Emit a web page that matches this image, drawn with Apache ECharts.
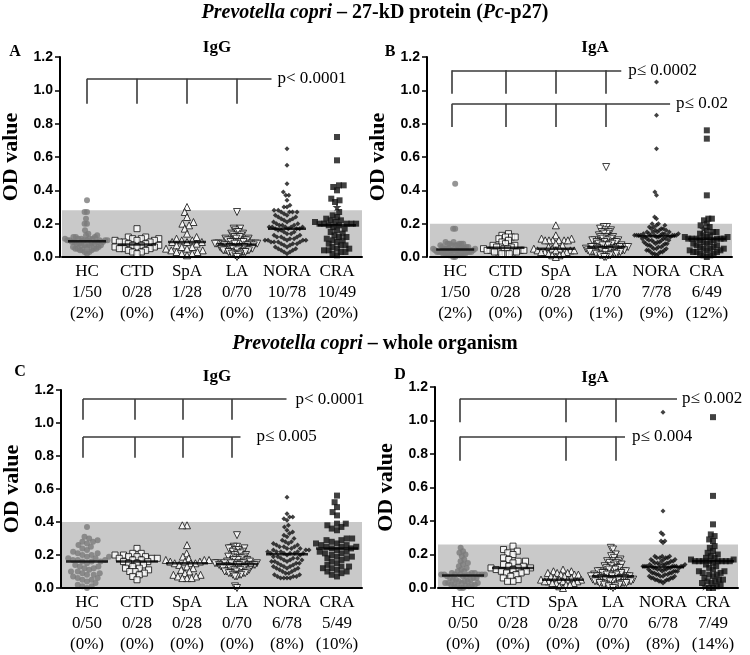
<!DOCTYPE html>
<html><head><meta charset="utf-8">
<script src="https://cdn.jsdelivr.net/npm/echarts@6/dist/echarts.min.js"></script>
<style>html,body{margin:0;padding:0;background:#fff}#c{width:750px;height:655px}</style>
</head><body><div id="c"></div>
<script>
// ---------------- DATA ----------------
const groups = ['HC','CTD','SpA','LA','NORA','CRA'];
const cutoffs = [0.28, 0.20, 0.40, 0.26];

// Panel A: Pc-p27 IgG
const hcA = [0.34,0.27,0.27,0.23,0.20,0.20,0.16,0.14,0.13,0.13,0.12,0.12,0.12,0.11,0.11,0.11,0.11,0.11,0.10,0.10,0.10,0.10,0.10,0.10,0.10,0.09,0.09,0.09,0.09,0.08,0.08,0.08,0.08,0.07,0.07,0.07,0.07,0.06,0.06,0.06,0.05,0.05,0.05,0.05,0.04,0.04,0.04,0.03,0.03,0.02];
const ctdA = [0.17,0.12,0.12,0.11,0.11,0.11,0.10,0.10,0.10,0.09,0.09,0.09,0.08,0.08,0.07,0.07,0.07,0.06,0.06,0.06,0.05,0.05,0.05,0.04,0.04,0.03,0.03,0.02];
const spaA = [0.30,0.27,0.24,0.21,0.20,0.19,0.17,0.14,0.12,0.11,0.10,0.10,0.09,0.09,0.09,0.08,0.07,0.06,0.06,0.05,0.05,0.04,0.04,0.03,0.03,0.02,0.02,0.01];
const laA = [0.27,0.17,0.17,0.16,0.15,0.15,0.14,0.14,0.13,0.13,0.12,0.12,0.12,0.11,0.11,0.11,0.10,0.10,0.10,0.10,0.09,0.09,0.09,0.09,0.09,0.08,0.08,0.08,0.08,0.08,0.08,0.08,0.08,0.08,0.08,0.07,0.07,0.07,0.07,0.07,0.07,0.06,0.06,0.06,0.06,0.06,0.06,0.05,0.05,0.05,0.05,0.05,0.05,0.04,0.04,0.04,0.04,0.04,0.04,0.03,0.03,0.03,0.03,0.03,0.02,0.02,0.02,0.01,0.01,0.00];
const noraA = [0.65,0.55,0.44,0.39,0.37,0.37,0.34,0.31,0.30,0.30,0.28,0.28,0.27,0.27,0.27,0.27,0.26,0.25,0.25,0.24,0.24,0.23,0.23,0.22,0.22,0.21,0.21,0.20,0.20,0.19,0.19,0.19,0.18,0.18,0.18,0.18,0.18,0.17,0.17,0.17,0.17,0.16,0.16,0.15,0.15,0.14,0.14,0.13,0.13,0.12,0.12,0.12,0.11,0.11,0.11,0.10,0.10,0.10,0.10,0.10,0.09,0.09,0.09,0.09,0.08,0.08,0.08,0.07,0.07,0.06,0.06,0.05,0.05,0.04,0.04,0.03,0.03,0.02];
const craA = [0.72,0.58,0.43,0.43,0.42,0.40,0.35,0.34,0.33,0.27,0.25,0.24,0.23,0.22,0.22,0.21,0.21,0.20,0.20,0.20,0.20,0.20,0.19,0.19,0.18,0.17,0.16,0.15,0.14,0.13,0.12,0.12,0.11,0.10,0.10,0.09,0.08,0.07,0.07,0.06,0.05,0.05,0.04,0.04,0.03,0.03,0.02,0.01];
const starA = [0.30];
const fracA = ['1/50','0/28','1/28','0/70','10/78','10/49'];
const pctA = ['(2%)','(0%)','(4%)','(0%)','(13%)','(20%)'];

// Panel B: Pc-p27 IgA
const hcB = [0.44,0.17,0.17,0.09,0.09,0.08,0.08,0.08,0.08,0.08,0.07,0.07,0.07,0.07,0.06,0.06,0.06,0.05,0.05,0.05,0.05,0.05,0.05,0.05,0.05,0.04,0.04,0.04,0.04,0.04,0.04,0.03,0.03,0.03,0.03,0.03,0.03,0.03,0.02,0.02,0.02,0.02,0.02,0.02,0.01,0.01,0.01,0.01,0.00,0.00];
const ctdB = [0.14,0.13,0.12,0.12,0.12,0.11,0.10,0.09,0.08,0.07,0.07,0.06,0.06,0.06,0.05,0.05,0.05,0.04,0.04,0.04,0.04,0.03,0.03,0.03,0.03,0.02,0.02,0.02];
const spaB = [0.19,0.13,0.11,0.11,0.10,0.10,0.10,0.10,0.10,0.10,0.08,0.07,0.06,0.05,0.05,0.05,0.04,0.04,0.04,0.04,0.03,0.03,0.03,0.02,0.02,0.01,0.01,0.00];
const laB = [0.54,0.18,0.18,0.17,0.16,0.16,0.15,0.15,0.14,0.14,0.13,0.12,0.12,0.12,0.11,0.11,0.11,0.10,0.10,0.10,0.10,0.09,0.09,0.09,0.09,0.08,0.08,0.08,0.08,0.07,0.07,0.07,0.07,0.06,0.06,0.06,0.06,0.06,0.06,0.06,0.05,0.05,0.05,0.05,0.05,0.05,0.04,0.04,0.04,0.04,0.04,0.04,0.04,0.03,0.03,0.03,0.03,0.03,0.03,0.02,0.02,0.02,0.02,0.02,0.01,0.01,0.01,0.01,0.00,0.00];
const noraB = [1.05,0.85,0.65,0.39,0.37,0.24,0.23,0.20,0.20,0.19,0.19,0.18,0.18,0.17,0.17,0.17,0.16,0.16,0.16,0.15,0.15,0.15,0.15,0.14,0.14,0.14,0.14,0.14,0.13,0.13,0.13,0.13,0.13,0.13,0.13,0.13,0.13,0.13,0.13,0.12,0.12,0.12,0.12,0.11,0.11,0.11,0.11,0.10,0.10,0.10,0.10,0.09,0.09,0.09,0.09,0.08,0.08,0.08,0.08,0.07,0.07,0.07,0.06,0.06,0.06,0.05,0.05,0.05,0.04,0.04,0.04,0.03,0.03,0.03,0.02,0.02,0.02,0.01];
const craB = [0.76,0.71,0.37,0.23,0.23,0.22,0.20,0.19,0.18,0.16,0.15,0.15,0.14,0.13,0.13,0.12,0.12,0.12,0.11,0.11,0.11,0.11,0.11,0.11,0.10,0.10,0.09,0.09,0.08,0.08,0.07,0.07,0.06,0.06,0.05,0.05,0.05,0.04,0.04,0.04,0.03,0.03,0.03,0.02,0.02,0.01,0.01,0.00];
const starB = [0.17];
const fracB = ['1/50','0/28','0/28','1/70','7/78','6/49'];
const pctB = ['(2%)','(0%)','(0%)','(1%)','(9%)','(12%)'];

// Panel C: whole organism IgG
const hcC = [0.37,0.31,0.30,0.29,0.28,0.28,0.27,0.26,0.25,0.24,0.23,0.22,0.21,0.21,0.20,0.20,0.19,0.19,0.18,0.18,0.17,0.17,0.17,0.16,0.16,0.16,0.15,0.14,0.13,0.13,0.12,0.12,0.11,0.10,0.10,0.09,0.09,0.08,0.08,0.07,0.06,0.06,0.05,0.05,0.04,0.03,0.02,0.01,0.01,0.00];
const ctdC = [0.24,0.21,0.21,0.20,0.20,0.19,0.19,0.19,0.18,0.18,0.18,0.17,0.17,0.16,0.16,0.15,0.15,0.14,0.13,0.12,0.12,0.11,0.10,0.10,0.09,0.08,0.07,0.05];
const spaC = [0.38,0.38,0.26,0.21,0.19,0.18,0.17,0.17,0.17,0.16,0.16,0.16,0.15,0.15,0.15,0.14,0.13,0.12,0.11,0.10,0.09,0.08,0.08,0.07,0.07,0.06,0.06,0.06];
const laC = [0.32,0.25,0.25,0.24,0.24,0.24,0.23,0.23,0.22,0.22,0.21,0.21,0.20,0.20,0.19,0.19,0.19,0.18,0.18,0.18,0.17,0.17,0.17,0.16,0.16,0.16,0.16,0.15,0.15,0.15,0.15,0.15,0.15,0.15,0.15,0.14,0.14,0.14,0.14,0.14,0.14,0.13,0.13,0.13,0.13,0.13,0.12,0.12,0.12,0.12,0.12,0.11,0.11,0.11,0.11,0.10,0.10,0.10,0.10,0.09,0.09,0.09,0.09,0.08,0.08,0.08,0.07,0.07,0.01,0.00];
const noraC = [0.55,0.45,0.43,0.43,0.42,0.41,0.38,0.37,0.35,0.34,0.33,0.32,0.31,0.30,0.29,0.28,0.28,0.27,0.27,0.26,0.26,0.25,0.25,0.25,0.24,0.24,0.24,0.23,0.23,0.23,0.22,0.22,0.22,0.22,0.21,0.21,0.21,0.21,0.21,0.20,0.20,0.19,0.19,0.18,0.18,0.18,0.17,0.17,0.17,0.16,0.16,0.16,0.15,0.15,0.15,0.14,0.14,0.13,0.13,0.13,0.12,0.12,0.12,0.11,0.11,0.10,0.10,0.09,0.09,0.08,0.08,0.07,0.07,0.07,0.06,0.06,0.06,0.06];
const craC = [0.56,0.52,0.49,0.46,0.44,0.39,0.39,0.38,0.37,0.36,0.35,0.30,0.30,0.29,0.29,0.28,0.27,0.27,0.26,0.26,0.25,0.25,0.25,0.24,0.24,0.23,0.22,0.22,0.21,0.21,0.20,0.19,0.19,0.18,0.18,0.17,0.16,0.15,0.14,0.13,0.13,0.12,0.12,0.11,0.10,0.10,0.09,0.08,0.07];
const starC = [];
const fracC = ['0/50','0/28','0/28','0/70','6/78','5/49'];
const pctC = ['(0%)','(0%)','(0%)','(0%)','(8%)','(10%)'];

// Panel D: whole organism IgA
const hcD = [0.24,0.22,0.21,0.20,0.19,0.17,0.16,0.15,0.14,0.13,0.12,0.11,0.10,0.10,0.09,0.09,0.09,0.08,0.08,0.08,0.08,0.08,0.08,0.08,0.08,0.07,0.07,0.07,0.06,0.06,0.06,0.05,0.05,0.05,0.04,0.04,0.04,0.03,0.03,0.03,0.03,0.02,0.02,0.02,0.02,0.01,0.01,0.01,0.00,0.00];
const ctdD = [0.25,0.23,0.22,0.21,0.20,0.18,0.17,0.16,0.16,0.15,0.14,0.13,0.13,0.12,0.12,0.12,0.11,0.11,0.10,0.10,0.09,0.09,0.08,0.07,0.06,0.05,0.04,0.04];
const spaD = [0.11,0.10,0.10,0.09,0.09,0.09,0.08,0.08,0.08,0.07,0.07,0.06,0.06,0.05,0.05,0.05,0.05,0.04,0.04,0.04,0.04,0.03,0.03,0.03,0.02,0.02,0.01,0.00];
const laD = [0.24,0.23,0.20,0.19,0.18,0.17,0.16,0.16,0.16,0.15,0.15,0.14,0.14,0.13,0.13,0.12,0.12,0.12,0.11,0.11,0.11,0.10,0.10,0.10,0.10,0.09,0.09,0.09,0.09,0.08,0.08,0.08,0.08,0.08,0.07,0.07,0.07,0.07,0.07,0.07,0.06,0.06,0.06,0.06,0.06,0.05,0.05,0.05,0.05,0.05,0.05,0.04,0.04,0.04,0.04,0.04,0.04,0.03,0.03,0.03,0.03,0.03,0.02,0.02,0.02,0.02,0.01,0.01,0.01,0.00];
const noraD = [1.05,0.46,0.33,0.32,0.28,0.28,0.27,0.19,0.19,0.19,0.18,0.18,0.18,0.18,0.17,0.17,0.17,0.16,0.16,0.16,0.16,0.15,0.15,0.15,0.15,0.14,0.14,0.14,0.14,0.14,0.13,0.13,0.13,0.13,0.13,0.13,0.13,0.13,0.13,0.12,0.12,0.12,0.12,0.12,0.11,0.11,0.11,0.11,0.11,0.10,0.10,0.10,0.10,0.10,0.09,0.09,0.09,0.09,0.08,0.08,0.08,0.08,0.07,0.07,0.07,0.07,0.06,0.06,0.06,0.06,0.05,0.05,0.05,0.05,0.04,0.04,0.04,0.03];
const craD = [1.02,0.55,0.38,0.32,0.31,0.29,0.28,0.25,0.24,0.22,0.21,0.20,0.19,0.18,0.18,0.17,0.17,0.16,0.16,0.16,0.16,0.16,0.16,0.16,0.16,0.15,0.14,0.13,0.12,0.11,0.10,0.10,0.09,0.09,0.08,0.08,0.07,0.06,0.05,0.05,0.04,0.04,0.03,0.03,0.02,0.01,0.00,0.00];
const starD = [0.01];
const fracD = ['0/50','0/28','0/28','0/70','6/78','7/49'];
const pctD = ['(0%)','(0%)','(0%)','(0%)','(8%)','(14%)'];

// ---------------- LAYOUT / STYLE ----------------
const SERIF = '"Liberation Serif","Times New Roman",serif';
const SANS = '"Liberation Sans",Arial,sans-serif';
const openStyle = {color:'#fff', borderColor:'#111', borderWidth:1};
const markers = [
  {symbol:'circle', size:6, rotate:0, itemStyle:{color:'#7b7b7b'}},
  {symbol:'rect', size:6, rotate:0, itemStyle:openStyle},
  {symbol:'triangle', size:7, rotate:0, itemStyle:openStyle},
  {symbol:'triangle', size:7, rotate:180, itemStyle:openStyle},
  {symbol:'diamond', size:5, rotate:0, itemStyle:{color:'#111'}},
  {symbol:'rect', size:6, rotate:0, itemStyle:{color:'#111'}}
];
const STAR = 'path://M50,0 L61,35 L98,35 L68,57 L79,91 L50,70 L21,91 L32,57 L2,35 L39,35 Z';

const panels = [
  {grid:{left:62, top:57, width:300, height:200}, yOff:2,
   vals:[hcA,ctdA,spaA,laA,noraA,craA], star:starA, fr:fracA, pc:pctA, medW:38,
   brackets:[{top:1.07, bottom:0.92, ticks:[0,1,2,3], end:3.69, text:'p< 0.0001', gap:6}],
   letter:['A',15,52], sub:['IgG',217,48]},
  {grid:{left:430, top:57, width:302, height:200}, yOff:3,
   vals:[hcB,ctdB,spaB,laB,noraB,craB], star:starB, fr:fracB, pc:pctB, medW:38,
   brackets:[{top:1.12, bottom:0.98, ticks:[-0.06,1,2,3], end:3.3, text:'p\u2264 0.0002', gap:7},
             {top:0.92, bottom:0.78, ticks:[-0.06,1,2,3], end:4.27, text:'p\u2264 0.02', gap:6}],
   letter:['B',390,52], sub:['IgA',595,48]},
  {grid:{left:62, top:390, width:300, height:198}, yOff:1,
   vals:[hcC,ctdC,spaC,laC,noraC,craC], star:starC, fr:fracC, pc:pctC, medW:42,
   brackets:[{top:1.145, bottom:1.02, ticks:[-0.08,0.96,1.92,2.9], end:3.99, text:'p< 0.0001', gap:9},
             {top:0.915, bottom:0.79, ticks:[-0.08,0.96,1.92,2.9], end:3.07, text:'p\u2264 0.005', gap:16}],
   letter:['C',20,372], sub:['IgG',217,377]},
  {grid:{left:438, top:387, width:300, height:201}, yOff:3,
   vals:[hcD,ctdD,spaD,laD,noraD,craD], star:starD, fr:fracD, pc:pctD, medW:42,
   brackets:[{top:1.13, bottom:0.99, ticks:[-0.06,2.06,3.06], end:4.28, text:'p\u2264 0.002', gap:5},
             {top:0.905, bottom:0.76, ticks:[-0.06,2.06,3.06], end:3.24, text:'p\u2264 0.004', gap:7}],
   letter:['D',400,375], sub:['IgA',595,378]}
];

function median(a){
  const s = a.slice().sort((x,y)=>x-y); const n = s.length;
  return n % 2 ? s[(n-1)/2] : (s[n/2-1] + s[n/2]) / 2;
}
// deterministic beeswarm: horizontal pixel offsets from the values' pixel heights
function swarm(vals, pxY, D, maxHalf){
  const order = vals.map((v,i)=>i).sort((a,b)=>vals[a]-vals[b]);
  const placed = []; const xs = new Array(vals.length).fill(0);
  order.forEach(i=>{
    const y = vals[i]*pxY;
    const near = placed.filter(p=>Math.abs(p.y-y) < D);
    const cands = [0];
    near.forEach(p=>{ const dx = Math.sqrt(D*D-(p.y-y)*(p.y-y)); cands.push(p.x+dx, p.x-dx); });
    cands.sort((a,b)=>Math.abs(a)-Math.abs(b) || a-b);
    let best = 0;
    for (const c of cands){
      if (near.every(p=>(p.x-c)*(p.x-c)+(p.y-y)*(p.y-y) >= D*D-0.01)){ best = c; break; }
    }
    placed.push({x:best,y:y}); xs[i] = best;
  });
  const m = Math.max(0, ...xs.map(Math.abs));
  const s = m > maxHalf ? maxHalf/m : 1;
  return xs.map(x=>x*s);
}

const grids=[], xAxes=[], yAxes=[], series=[], graphics=[];
panels.forEach((p,k)=>{
  grids.push(Object.assign({containLabel:false, outerBoundsMode:'none'}, p.grid));
  xAxes.push({type:'category', gridIndex:k, data:groups, boundaryGap:true, z:5,
    axisLine:{show:true, onZero:false, lineStyle:{color:'#000', width:2}}, axisTick:{show:false}, splitLine:{show:false},
    axisLabel:{interval:0, margin:4, fontFamily:SERIF, fontSize:17, lineHeight:21, color:'#000',
      formatter:(v,i)=>v+'\n'+p.fr[i]+'\n'+p.pc[i]}});
  xAxes.push({type:'value', gridIndex:k, min:-0.5, max:5.5, show:false});
  yAxes.push({type:'value', gridIndex:k, min:0, max:1.2, interval:0.2, offset:p.yOff, z:5,
    axisLine:{show:true, onZero:false, lineStyle:{color:'#000', width:2}},
    axisTick:{show:true, length:5, lineStyle:{color:'#000', width:1.5}},
    splitLine:{show:false},
    axisLabel:{formatter:v=>v.toFixed(1), fontFamily:SANS, fontWeight:'bold', fontSize:14, color:'#000', margin:7},
    name:'OD value', nameLocation:'middle', nameGap:38,
    nameTextStyle:{fontFamily:SERIF, fontWeight:'bold', fontSize:22, color:'#000'}});
  const xi = 2*k+1, yi = k;
  const pxX = p.grid.width/6, pxY = p.grid.height/1.2;

  // shading, brackets and p-value texts
  const mlData = [];
  p.brackets.forEach(b=>{
    mlData.push([{coord:[b.ticks[0], b.top]}, {coord:[b.end, b.top]}]);
    b.ticks.forEach(t=>mlData.push([{coord:[t, b.top]}, {coord:[t, b.bottom]}]));
  });
  series.push({type:'scatter', xAxisIndex:xi, yAxisIndex:yi, data:[[0,0]], symbolSize:0, z:1, silent:true,
    markArea:{silent:true, itemStyle:{color:'#c9c9c9'},
      data:[[{coord:[-0.5,0]},{coord:[5.5,cutoffs[k]]}]]},
    markLine:{silent:true, symbol:['none','none'], label:{show:false},
      lineStyle:{color:'#3a3a3a', width:1.6, type:'solid'}, data:mlData},
    markPoint:{silent:true, symbol:'circle', symbolSize:0,
      label:{show:true, position:'right', formatter:'{b}', fontFamily:SERIF, fontSize:17, color:'#000'},
      data:p.brackets.map(b=>({name:b.text, coord:[b.end, b.top], label:{distance:b.gap}}))}
  });

  // groups
  const medData = [];
  p.vals.forEach((vals,g)=>{
    const extra = (g===5) ? p.star : [];
    const all = vals.concat(extra);
    const offs = swarm(all, pxY, 5.5, 22);
    const mk = markers[g];
    series.push({type:'scatter', xAxisIndex:xi, yAxisIndex:yi, z:3, symbol:mk.symbol, symbolSize:mk.size,
      symbolRotate:mk.rotate, itemStyle:mk.itemStyle,
      data:vals.map((v,i)=>[g + offs[i]/pxX, v])});
    if (extra.length){
      series.push({type:'scatter', xAxisIndex:xi, yAxisIndex:yi, z:3, symbol:STAR, symbolSize:9,
        itemStyle:{color:'#111'},
        data:extra.map((v,i)=>[g + offs[vals.length+i]/pxX, v])});
    }
    medData.push([g, median(all)]);
  });
  series.push({type:'scatter', xAxisIndex:xi, yAxisIndex:yi, z:4, symbol:'rect', symbolSize:[p.medW, 2.5],
    itemStyle:{color:'#000'}, data:medData});

  graphics.push({type:'text', x:p.letter[1], y:p.letter[2],
    style:{text:p.letter[0], font:'bold 16px '+SERIF, fill:'#000', textAlign:'center', textVerticalAlign:'middle', align:'center', verticalAlign:'middle'}});
  graphics.push({type:'text', x:p.sub[1], y:p.sub[2],
    style:{text:p.sub[0], font:'bold 17px '+SERIF, fill:'#000', textAlign:'center', textVerticalAlign:'middle', align:'center', verticalAlign:'middle'}});
});

const richT = {
  i:{fontFamily:SERIF, fontSize:20, fontWeight:'bold', fontStyle:'italic', color:'#000'},
  n:{fontFamily:SERIF, fontSize:20, fontWeight:'bold', color:'#000'}
};
const chart = echarts.init(document.getElementById('c'), null, {renderer:'canvas'});
chart.setOption({
  animation:false,
  backgroundColor:'#fff',
  title:[
    {text:'{i|Prevotella copri}{n| \u2013 27-kD protein (}{i|Pc}{n|-p27)}', left:'center', top:3, padding:0,
     textStyle:{rich:richT, fontFamily:SERIF, fontSize:20, fontWeight:'bold'}},
    {text:'{i|Prevotella copri}{n| \u2013 whole organism}', left:'center', top:334, padding:0,
     textStyle:{rich:richT, fontFamily:SERIF, fontSize:20, fontWeight:'bold'}}
  ],
  grid:grids, xAxis:xAxes, yAxis:yAxes, series:series, graphic:graphics
});
</script></body></html>
